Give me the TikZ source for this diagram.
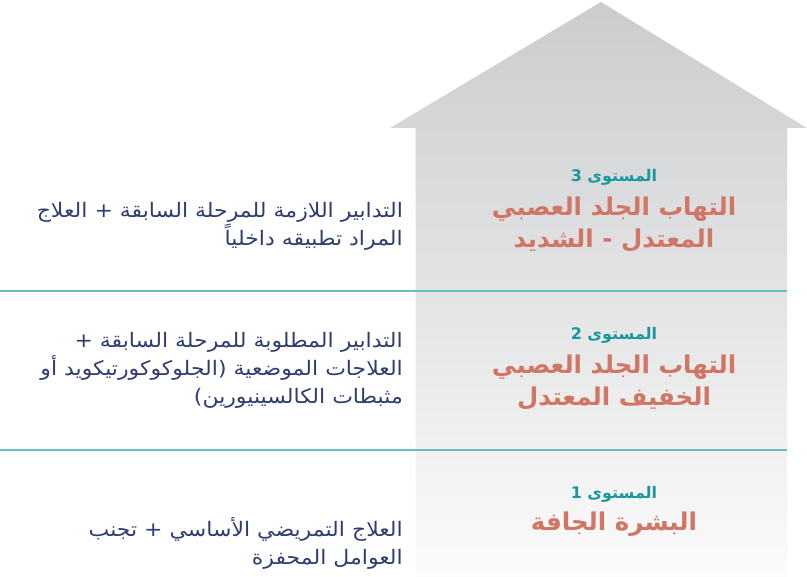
\documentclass[tikz,border=0pt]{standalone}
\usepackage{fontspec}
\TeXXeTstate=1
\newfontfamily\arabicfont[Script=Arabic]{DejaVu Sans}
\newfontfamily\arabicwide[Script=Arabic,FakeStretch=1.1]{DejaVu Sans}
\definecolor{navy}{HTML}{2E3D70}
\definecolor{salmon}{HTML}{D17564}
\definecolor{tealtxt}{HTML}{1A979E}
\definecolor{tealline}{HTML}{6CBDC2}
\definecolor{roofgrey}{RGB}{203,204,206}
\definecolor{basegrey}{RGB}{251,251,251}
\tikzset{
  lvl/.style={text=tealtxt, font=\arabicfont\bfseries\fontsize{16}{18}\selectfont, inner sep=0pt},
  ttl/.style={text=salmon, font=\arabicfont\bfseries\fontsize{24.5}{32}\selectfont, align=center, inner sep=0pt},
  desc/.style={text=navy, font=\arabicwide\fontsize{20}{28}\selectfont, align=right, anchor=east, inner sep=0pt},
  sepline/.style={draw=tealline, line width=1.4pt}
}
\begin{document}
\begin{tikzpicture}[x=1pt,y=-1pt]
\useasboundingbox (0,0) rectangle (807,577);
\shade[top color=roofgrey, bottom color=basegrey]
  (390,128) -- (601,2) -- (807,128) -- (787,128) -- (787,577) -- (415.5,577) -- (415.5,128) -- cycle;
\coordinate (a1) at (0,291);
\coordinate (b1) at (787,291);
\coordinate (a2) at (0,450);
\coordinate (b2) at (787,450);
\draw[sepline] (a1) -- (b1);
\draw[sepline] (a2) -- (b2);
% level 3
\node[lvl] (l3) at (614,177) {\beginR المستوى 3\endR};
\node[ttl] (t3) at (614,224) {\beginR التهاب الجلد العصبي\endR\\\beginR المعتدل - الشديد\endR};
\node[desc] (d3) at (403,226) {\beginR التدابير اللازمة للمرحلة السابقة + العلاج\endR\\\beginR المراد تطبيقه داخلياً\endR};
% level 2
\node[lvl] (l2) at (614,335) {\beginR المستوى 2\endR};
\node[ttl] (t2) at (614,382) {\beginR التهاب الجلد العصبي\endR\\\beginR الخفيف المعتدل\endR};
\node[desc] (d2) at (403,370) {\beginR التدابير المطلوبة للمرحلة السابقة +\endR\\\beginR العلاجات الموضعية (الجلوكوكورتيكويد أو\endR\\\beginR مثبطات الكالسينيورين)\endR};
% level 1
\node[lvl] (l1) at (614,494) {\beginR المستوى 1\endR};
\node[ttl] (t1) at (614,524) {\beginR البشرة الجافة\endR};
\node[desc] (d1) at (403,543) {\beginR العلاج التمريضي الأساسي + تجنب\endR\\\beginR العوامل المحفزة\endR};
\end{tikzpicture}
\end{document}
